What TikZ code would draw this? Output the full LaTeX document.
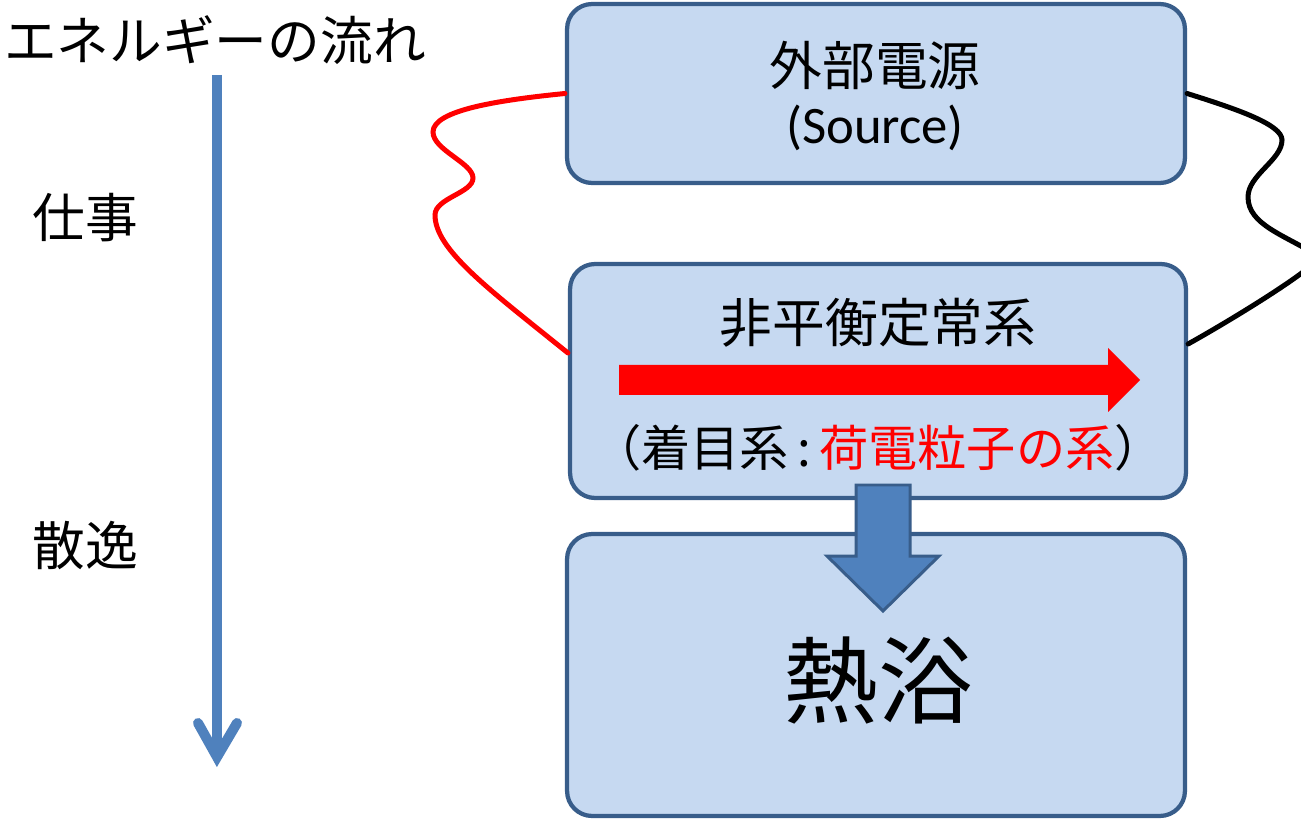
\documentclass[tikz,border=0pt]{standalone}
\usepackage{fontspec}
\newfontfamily\jpfont{Noto Sans CJK JP}
\newfontfamily\srcfont{Carlito}
\usetikzlibrary{calc}
\definecolor{boxfill}{RGB}{198,217,241}
\definecolor{boxline}{RGB}{56,93,138}
\definecolor{arrowblue}{RGB}{79,129,189}
\definecolor{wirered}{RGB}{255,0,0}
\begin{document}
\begin{tikzpicture}[x=0.02cm,y=-0.02cm,
  box/.style={draw=boxline, fill=boxfill, line width=0.085cm, rounded corners=0.5cm, inner sep=0pt},
  jptext/.style={inner sep=0pt, font=\jpfont\fontsize{30pt}{35pt}\selectfont},
  wire/.style={line width=0.1cm, line cap=round}]
\clip (0,0) rectangle (1301,820);
\fill[white] (0,0) rectangle (1301,820);

% left labels
\node[jptext] (flow) at (215,40) {エネルギーの流れ};
\node[jptext] (work) at (85,218) {仕事};
\node[jptext] (diss) at (85,545) {散逸};

% energy flow arrow
\coordinate (atop) at (217,75);
\coordinate (atip) at (217,757);
\coordinate (al) at (198,723);
\coordinate (ar) at (237,723);
\draw[arrowblue, line width=0.2cm] (atop) -- (atip);
\draw[arrowblue, line width=0.2cm, line cap=round, miter limit=10] (al) -- (atip) -- (ar);

% boxes
\node[box, minimum width=12.36cm, minimum height=3.58cm] (src) at (876,93.5) {};
\node[box, minimum width=12.32cm, minimum height=4.68cm] (sys) at (878,381) {};
\node[box, minimum width=12.36cm, minimum height=5.64cm] (bath) at (876,675) {};

% box texts
\node[jptext] (srcjp) at (875,65) {外部電源};
\node[inner sep=0pt, font=\srcfont\fontsize{30pt}{35pt}\selectfont] (srcen) at (875,128) {(Source)};
\node[jptext] (systitle) at (878,323) {非平衡定常系};
\node[inner sep=0pt, font=\jpfont\fontsize{28pt}{33pt}\selectfont] (focus) at (878,448) {（着目系\,:\,\textcolor{wirered}{荷電粒子の系}）};
\node[inner sep=0pt, font=\jpfont\fontsize{54pt}{62pt}\selectfont] (bathlbl) at (878,680) {熱浴};

% red current arrow
\fill[wirered] (619,365) -- (1108,365) -- (1108,348) -- (1140,380) -- (1108,412) -- (1108,395) -- (619,395) -- cycle;

% block arrow to heat bath
\draw[fill=arrowblue, draw=boxline, line width=0.06cm, line join=miter]
  (856,485) -- (910,485) -- (910,556) -- (939,556) -- (883,611) -- (827,556) -- (856,556) -- cycle;

% red wire
\coordinate (r2) at ($(sys.west)+(0,-28)$);
\draw[wire, wirered] (src.west) .. controls (500,100) and (433,110) .. (433,132)
  .. controls (433,150) and (473,163) .. (473,178)
  .. controls (473,193) and (435,198) .. (435,215)
  .. controls (435,250) and (490,290) .. (r2);

% black wire
\coordinate (b2) at ($(sys.east)+(0,-37)$);
\draw[wire, black] (src.east) .. controls (1240,110) and (1282,125) .. (1282,140)
  .. controls (1282,160) and (1248,175) .. (1248,197)
  .. controls (1248,225) and (1285,235) .. (1318,256)
  .. controls (1325,262) and (1240,315) .. (b2);
\end{tikzpicture}
\end{document}
